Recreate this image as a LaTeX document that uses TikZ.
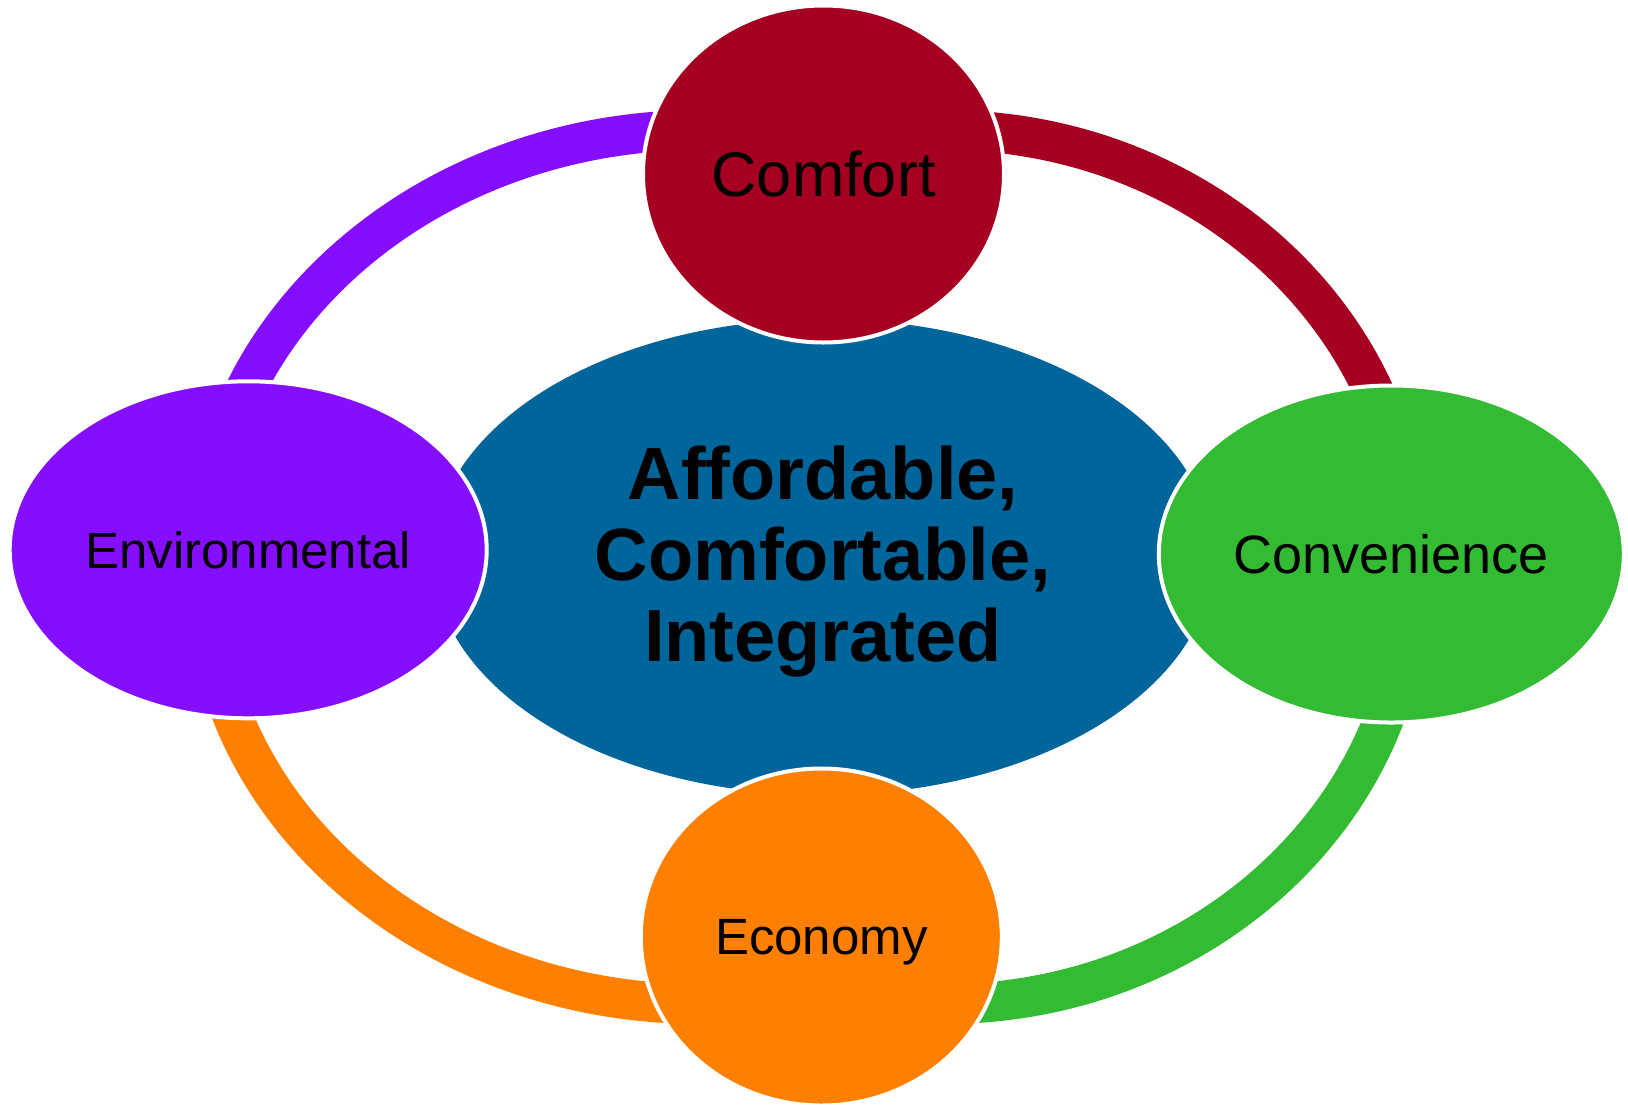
\documentclass[tikz,border=0pt]{standalone}
\usepackage{fontspec}
\setmainfont{Liberation Sans}
\usetikzlibrary{shapes.geometric}
\definecolor{cRed}{RGB}{165,0,33}
\definecolor{cGreen}{RGB}{51,187,51}
\definecolor{cOrange}{RGB}{255,128,0}
\definecolor{cPurple}{RGB}{134,14,255}
\definecolor{cBlue}{RGB}{0,101,154}
\begin{document}
\begin{tikzpicture}[x=1pt,y=-1pt,
  sat/.style={ellipse, draw=white, line width=4pt, inner sep=0pt, text=black,
    text depth=0pt, font=\fontsize{51}{60}\selectfont},
  hubshape/.style={ellipse, fill=cBlue, inner sep=0pt},
  band/.style={even odd rule},
]
\useasboundingbox (0,0) rectangle (1628,1104);

% ring segments
\begin{scope}
  \clip (0,0) rectangle (700,560);
  \fill[cPurple,band] (700,560) ellipse [x radius=515pt, y radius=450pt]
                      (700,560) ellipse [x radius=475pt, y radius=410pt];
\end{scope}
\begin{scope}
  \clip (944,0) rectangle (1628,560);
  \fill[cRed,band] (944,560) ellipse [x radius=487pt, y radius=450pt]
                   (944,560) ellipse [x radius=447pt, y radius=410pt];
\end{scope}
\begin{scope}
  \clip (944,574) rectangle (1628,1104);
  \fill[cGreen,band] (944,574) ellipse [x radius=487pt, y radius=450pt]
                     (944,574) ellipse [x radius=447pt, y radius=410pt];
\end{scope}
\begin{scope}
  \clip (0,574) rectangle (700,1104);
  \fill[cOrange,band] (700,574) ellipse [x radius=515pt, y radius=450pt]
                      (700,574) ellipse [x radius=475pt, y radius=410pt];
\end{scope}

% hub
\node[hubshape, minimum width=780pt, minimum height=476pt] (hub) at (823,557) {};
\node[font=\bfseries\fontsize{74}{81}\selectfont, align=center, inner sep=0pt, text=black]
  (hubtext) at (823,561.5) {Affordable,\\Comfortable,\\Integrated};

% satellites
\node[sat, fill=cRed, minimum width=361pt, minimum height=337pt,
  font=\fontsize{63}{70}\selectfont] (comfort) at (823.5,174) {Comfort};
\node[sat, fill=cGreen, minimum width=465pt, minimum height=337pt,
  font=\fontsize{54}{62}\selectfont] (conv) at (1391.3,554) {Convenience};
\node[sat, fill=cOrange, minimum width=361pt, minimum height=337pt] (econ) at (821.3,937) {Economy};
\node[sat, fill=cPurple, minimum width=477pt, minimum height=337pt] (env) at (248.2,549.8) {Environmental};
\end{tikzpicture}
\end{document}
